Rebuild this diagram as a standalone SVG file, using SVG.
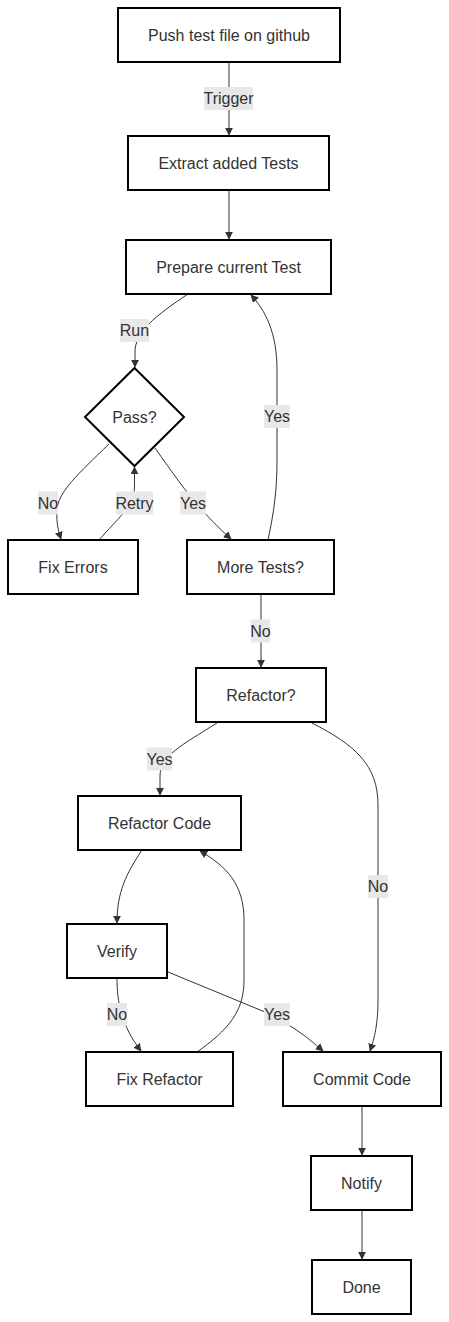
<svg xmlns="http://www.w3.org/2000/svg" width="449" height="1322" viewBox="0 0 449 1322">
<style>
.node rect,.node polygon{fill:#fff;stroke:#000;stroke-width:2}
.node text{font-family:"Liberation Sans",Arial,sans-serif;font-size:16px;fill:#333;text-anchor:middle;dominant-baseline:central}
.edge{fill:none;stroke:#333;stroke-width:1;marker-end:url(#arr)}
.lbl rect{fill:#e8e8e8}
.lbl text{font-family:"Liberation Sans",Arial,sans-serif;font-size:16px;fill:#333;text-anchor:middle;dominant-baseline:central}
</style>
<defs>
<marker id="arr" viewBox="0 0 10 10" refX="9" refY="5" markerUnits="userSpaceOnUse" markerWidth="8" markerHeight="8" orient="auto">
<path d="M0,0 L10,5 L0,10 z" fill="#333"/>
</marker>
</defs>
<rect width="449" height="1322" fill="#fff"/>
<g id="connectors">
<path class="edge" d="M229,62 L229,135"/>
<path class="edge" d="M229,190 L229,239"/>
<path class="edge" d="M188,294 C155,316 135,332 135,352 L135,367"/>
<path class="edge" d="M109,444 C78,474 58,492 57,510 C56,524 59,533 61,539"/>
<path class="edge" d="M99,540 C118,518 134.5,506 134.5,487 L134.5,467"/>
<path class="edge" d="M155,448 C172,472 186,492 200,508 C213,522 222,531 231,539"/>
<path class="edge" d="M268,540 C274,512 277,490 277,460 L277,370 C277,332 265,310 251,295"/>
<path class="edge" d="M261,594 L261,667"/>
<path class="edge" d="M217,723 C182,745 160,756 160,776 L160,795"/>
<path class="edge" d="M312,723 C355,745 378,765 378,805 L378,1000 C378,1028 373,1042 370,1051"/>
<path class="edge" d="M142,850 C126,874 117,892 117,923"/>
<path class="edge" d="M117,978 C117,1002 121,1025 141,1051"/>
<path class="edge" d="M168,972 L265,1012 C290,1024 306,1036 323,1051"/>
<path class="edge" d="M197,1052 C228,1030 244,1012 244,980 L244,920 C244,884 226,866 200,851"/>
<path class="edge" d="M362,1106 L362,1155"/>
<path class="edge" d="M362,1210 L362,1259"/>
<g class="lbl"><rect x="204" y="87" width="49" height="23"/><text x="228.5" y="98.5">Trigger</text></g>
<g class="lbl"><rect x="120" y="319" width="29" height="23"/><text x="134.5" y="330.5">Run</text></g>
<g class="lbl"><rect x="38" y="491.5" width="20" height="23"/><text x="48" y="503">No</text></g>
<g class="lbl"><rect x="116" y="491.5" width="37" height="23"/><text x="134.5" y="503">Retry</text></g>
<g class="lbl"><rect x="180" y="491.5" width="26" height="23"/><text x="193" y="503">Yes</text></g>
<g class="lbl"><rect x="264" y="405" width="26" height="23"/><text x="277" y="416.5">Yes</text></g>
<g class="lbl"><rect x="251" y="619.5" width="19" height="23"/><text x="260.5" y="631">No</text></g>
<g class="lbl"><rect x="147" y="747.5" width="25" height="23"/><text x="159.5" y="759">Yes</text></g>
<g class="lbl"><rect x="368" y="875" width="20" height="23"/><text x="378" y="886.5">No</text></g>
<g class="lbl"><rect x="107" y="1003" width="20" height="23"/><text x="117" y="1014.5">No</text></g>
<g class="lbl"><rect x="264" y="1003" width="26" height="23"/><text x="277" y="1014.5">Yes</text></g>
</g>
<g id="push" class="node"><rect x="118" y="8" width="222" height="54"/><text x="229" y="35">Push test file on github</text></g>
<g id="extract" class="node"><rect x="128" y="136" width="201" height="54"/><text x="228.5" y="163">Extract added Tests</text></g>
<g id="prepare" class="node"><rect x="126" y="240" width="205" height="54"/><text x="228.5" y="267">Prepare current Test</text></g>
<g id="pass" class="node"><polygon points="134.5,368 184,417 134.5,466 85,417"/><text x="134.5" y="417">Pass?</text></g>
<g id="fixerrors" class="node"><rect x="8" y="540" width="130" height="54"/><text x="73" y="567">Fix Errors</text></g>
<g id="moretests" class="node"><rect x="187" y="540" width="147" height="54"/><text x="260.5" y="567">More Tests?</text></g>
<g id="refactorq" class="node"><rect x="196" y="668" width="130" height="54"/><text x="261" y="695">Refactor?</text></g>
<g id="refactorcode" class="node"><rect x="78" y="796" width="163" height="54"/><text x="159.5" y="823">Refactor Code</text></g>
<g id="verify" class="node"><rect x="67" y="924" width="100" height="54"/><text x="117" y="951">Verify</text></g>
<g id="fixrefactor" class="node"><rect x="86" y="1052" width="147" height="54"/><text x="159.5" y="1079">Fix Refactor</text></g>
<g id="commit" class="node"><rect x="283" y="1052" width="158" height="54"/><text x="362" y="1079">Commit Code</text></g>
<g id="notify" class="node"><rect x="311" y="1156" width="101" height="54"/><text x="361.5" y="1183">Notify</text></g>
<g id="done" class="node"><rect x="312" y="1260" width="99" height="54"/><text x="361.5" y="1287">Done</text></g>
</svg>
